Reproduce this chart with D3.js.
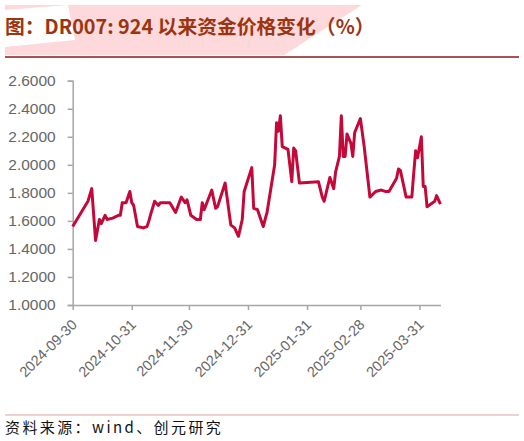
<!DOCTYPE html>
<html>
<head>
<meta charset="utf-8">
<script src="https://cdn.jsdelivr.net/npm/d3@7"></script>
<style>
  body { margin: 0; background: #fff; }
  svg { display: block; }
</style>
</head>
<body>
<svg id="chart" width="524" height="441"></svg>
<script>
// DR007 daily readings (approximate)
const dates = [
    '2024-09-30', '2024-10-08', '2024-10-10', '2024-10-12', '2024-10-14', '2024-10-15',
    '2024-10-17', '2024-10-18', '2024-10-21', '2024-10-24', '2024-10-25', '2024-10-26',
    '2024-10-28', '2024-10-30', '2024-10-31', '2024-11-01', '2024-11-03', '2024-11-06',
    '2024-11-08', '2024-11-09', '2024-11-10', '2024-11-12', '2024-11-14', '2024-11-15',
    '2024-11-20', '2024-11-23', '2024-11-26', '2024-11-28', '2024-11-29', '2024-12-01',
    '2024-12-04', '2024-12-06', '2024-12-07', '2024-12-08', '2024-12-12', '2024-12-14',
    '2024-12-15', '2024-12-19', '2024-12-22', '2024-12-24', '2024-12-26', '2024-12-28',
    '2024-12-29', '2025-01-02', '2025-01-03', '2025-01-05', '2025-01-08', '2025-01-10',
    '2025-01-14', '2025-01-15', '2025-01-16', '2025-01-17', '2025-01-18', '2025-01-21',
    '2025-01-23', '2025-01-24', '2025-01-25', '2025-01-27', '2025-02-06', '2025-02-08',
    '2025-02-09', '2025-02-12', '2025-02-14', '2025-02-15', '2025-02-17', '2025-02-18',
    '2025-02-19', '2025-02-20', '2025-02-21', '2025-02-23', '2025-02-24', '2025-02-25',
    '2025-02-28', '2025-03-02', '2025-03-05', '2025-03-08', '2025-03-11', '2025-03-13',
    '2025-03-15', '2025-03-19', '2025-03-20', '2025-03-21', '2025-03-24', '2025-03-27',
    '2025-03-28', '2025-03-29', '2025-03-30', '2025-04-01', '2025-04-02', '2025-04-03',
    '2025-04-04', '2025-04-08', '2025-04-09', '2025-04-11'
];
const rates = [
    1.56, 1.74, 1.83, 1.46, 1.61, 1.58,
    1.64, 1.61, 1.62, 1.64, 1.64, 1.73,
    1.73, 1.81, 1.73, 1.71, 1.56, 1.55,
    1.56, 1.60, 1.65, 1.74, 1.71, 1.73,
    1.73, 1.66, 1.77, 1.73, 1.75, 1.64,
    1.61, 1.61, 1.73, 1.68, 1.82, 1.69,
    1.70, 1.87, 1.57, 1.55, 1.49, 1.61,
    1.81, 1.98, 1.69, 1.68, 1.56, 1.66,
    2.00, 2.30, 2.24, 2.35, 2.13, 2.11,
    1.88, 2.12, 2.10, 1.87, 1.88, 1.77,
    1.74, 1.91, 1.83, 1.95, 2.06, 2.35,
    2.06, 2.06, 2.22, 2.155, 2.06, 2.23,
    2.33, 2.13, 1.77, 1.81, 1.82, 1.81,
    1.81, 1.905, 1.97, 1.96, 1.77, 1.77,
    1.94, 2.10, 2.05, 2.20, 1.845, 1.845,
    1.70, 1.74, 1.78, 1.72
];

const yTicks = [1.0, 1.2, 1.4, 1.6, 1.8, 2.0, 2.2, 2.4, 2.6];
const xTickDates = ['2024-09-30', '2024-10-31', '2024-11-30', '2024-12-31',
    '2025-01-31', '2025-02-28', '2025-03-31'];

const titleText = '图：DR007: 924 以来资金价格变化（%）';
const sourceText = '资料来源：wind、创元研究';

const parseDate = d3.timeParse('%Y-%m-%d');
const data = dates.map((d, i) => ({ date: parseDate(d), value: rates[i] }));

const svg = d3.select('#chart');

// title band decoration
const header = svg.append('g');
header.append('polygon')
    .attr('points', '5,5 362,5 284,55 5,55')
    .attr('fill', '#fdd9dc');
header.append('polygon')
    .attr('points', '5,10 68,5 75,40 5,47')
    .attr('fill', '#ffffff');
header.append('text')
    .attr('x', 5)
    .attr('y', 34)
    .attr('fill', '#9a3510')
    .attr('font-family', '"Noto Sans CJK SC", sans-serif')
    .attr('font-weight', 'bold')
    .attr('font-size', 19.8)
    .text(titleText);
header.append('line')
    .attr('x1', 5).attr('x2', 519)
    .attr('y1', 57).attr('y2', 57)
    .attr('stroke', '#8b1a1a')
    .attr('stroke-width', 1.5);

// plot area
const margin = { left: 72.7, top: 80.7, right: 440.4, bottom: 305 };

const xScale = d3.scaleTime()
    .domain([parseDate('2024-09-30'), parseDate('2025-04-11')])
    .range([margin.left, margin.right]);

const yScale = d3.scaleLinear()
    .domain([1.0, 2.6])
    .range([margin.bottom, margin.top]);

const axisColor = '#a6a6a6';
const labelColor = '#666666';

const yAxis = svg.append('g')
    .attr('transform', `translate(${margin.left},0)`)
    .call(d3.axisLeft(yScale)
        .tickValues(yTicks)
        .tickSize(5)
        .tickPadding(12)
        .tickFormat(d3.format('.4f')));

yAxis.select('.domain').attr('stroke', axisColor).attr('stroke-width', 1.5);
yAxis.selectAll('.tick line').attr('stroke', axisColor).attr('stroke-width', 1.5);
yAxis.selectAll('.tick text')
    .attr('fill', labelColor)
    .attr('font-family', '"Liberation Sans", Arial, sans-serif')
    .attr('font-size', 15.5);

const xAxis = svg.append('g')
    .attr('transform', `translate(0,${margin.bottom})`)
    .call(d3.axisBottom(xScale)
        .tickValues(xTickDates.map(parseDate))
        .tickSize(5)
        .tickSizeOuter(0)
        .tickFormat(d3.timeFormat('%Y-%m-%d')));

xAxis.select('.domain').attr('stroke', axisColor).attr('stroke-width', 1.5);
xAxis.selectAll('.tick line').attr('stroke', axisColor).attr('stroke-width', 1.5);
xAxis.selectAll('.tick text')
    .attr('fill', labelColor)
    .attr('font-family', '"Liberation Sans", Arial, sans-serif')
    .attr('font-size', 14.5)
    .attr('text-anchor', 'end')
    .attr('dy', 0)
    .attr('transform', 'translate(-1,15) rotate(-45)');

const line = d3.line()
    .x(d => xScale(d.date))
    .y(d => yScale(d.value));

svg.append('path')
    .datum(data)
    .attr('d', line)
    .attr('fill', 'none')
    .attr('stroke', '#c4093a')
    .attr('stroke-width', 3)
    .attr('stroke-linejoin', 'round');

// footer
svg.append('line')
    .attr('x1', 5).attr('x2', 519)
    .attr('y1', 415).attr('y2', 415)
    .attr('stroke', '#dba3a3')
    .attr('stroke-width', 1);

svg.append('text')
    .attr('x', 5)
    .attr('y', 433)
    .attr('fill', '#111')
    .attr('font-family', '"Noto Sans CJK SC", sans-serif')
    .attr('font-size', 15)
    .attr('letter-spacing', 2.4)
    .text(sourceText);
</script>
</body>
</html>
